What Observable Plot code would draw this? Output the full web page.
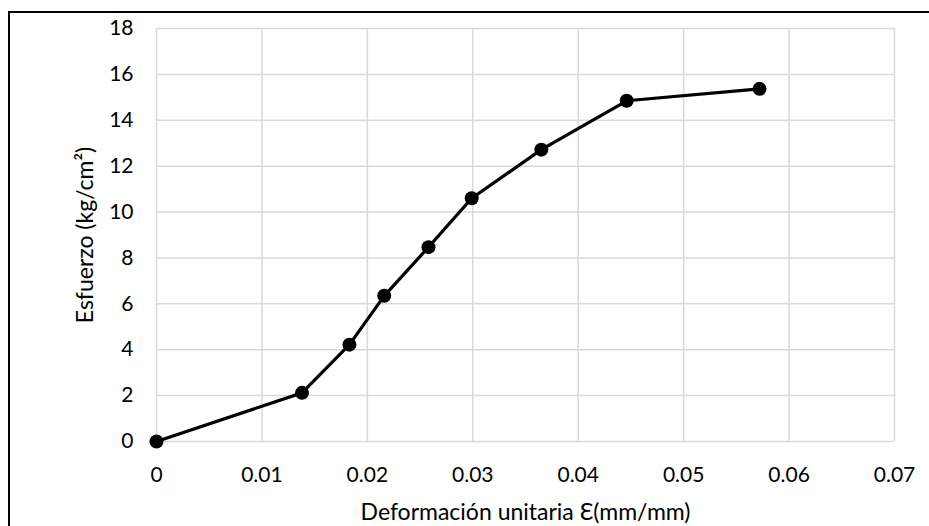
<!DOCTYPE html>
<html>
<head>
<meta charset="utf-8">
<script src="https://cdn.jsdelivr.net/npm/d3@7"></script>
<script src="https://cdn.jsdelivr.net/npm/@observablehq/plot@0.6"></script>
<style>
  html, body { margin: 0; padding: 0; background: #fff; overflow: hidden; }
  #wrap { position: relative; width: 929px; height: 526px; }
  #border { position: absolute; left: 8px; top: 11px; width: 960px; height: 560px;
            border: 2px solid #000; box-sizing: border-box; pointer-events: none; }
  #chart svg { display: block; overflow: visible; }
</style>
</head>
<body>
<div id="wrap">
  <div id="chart"></div>
  <div id="border"></div>
</div>
<script>
// Stress–strain test readings
const strain = [0, 0.0138, 0.0183, 0.0216, 0.0258, 0.0299, 0.0365, 0.0446, 0.0572];
const stress = [0, 2.12, 4.22, 6.35, 8.47, 10.6, 12.72, 14.85, 15.37];

// Axis ticks
const xTicks = [0, 0.01, 0.02, 0.03, 0.04, 0.05, 0.06, 0.07];
const xTickLabels = ["0", "0.01", "0.02", "0.03", "0.04", "0.05", "0.06", "0.07"];
const yTicks = [0, 2, 4, 6, 8, 10, 12, 14, 16, 18];

const xTitle = "Deformación unitaria Ɛ(mm/mm)";
const yTitle = "Esfuerzo (kg/cm²)";

const data = strain.map((e, i) => ({e, s: stress[i]}));
const font = "Lato, 'Open Sans', sans-serif";
const xFmt = d => xTickLabels[xTicks.indexOf(d)] ?? d;

const chart = Plot.plot({
  width: 929,
  height: 526,
  marginLeft: 156,
  marginRight: 35,
  marginTop: 28,
  marginBottom: 85,
  style: {fontFamily: font, fontSize: "21px", color: "#000", background: "transparent"},
  x: {domain: [0, 0.07], ticks: xTicks, tickFormat: xFmt, label: null},
  y: {domain: [0, 18], ticks: yTicks, label: null},
  marks: [
    Plot.gridX(xTicks, {stroke: "#d9d9d9", strokeOpacity: 1, strokeWidth: 1.5}),
    Plot.gridY(yTicks, {stroke: "#d9d9d9", strokeOpacity: 1, strokeWidth: 1.5}),
    Plot.axisX({ticks: xTicks, tickFormat: xFmt, tickSize: 0, tickPadding: 26,
      fontSize: 21, label: null}),
    Plot.axisY({ticks: yTicks, tickSize: 0, tickPadding: 23, fontSize: 21, label: null}),
    Plot.line(data, {x: "e", y: "s", stroke: "#000", strokeWidth: 3.2}),
    Plot.dot(data, {x: "e", y: "s", r: 7, fill: "#000", stroke: "none"}),
    Plot.text([xTitle], {frameAnchor: "bottom", textAnchor: "middle", lineAnchor: "middle",
      dy: 71, fontSize: 23, fill: "#000"}),
    Plot.text([yTitle], {frameAnchor: "left", textAnchor: "middle", lineAnchor: "middle",
      dx: -71, rotate: -90, fontSize: 23, fill: "#000"})
  ]
});
document.getElementById("chart").appendChild(chart);
</script>
</body>
</html>
